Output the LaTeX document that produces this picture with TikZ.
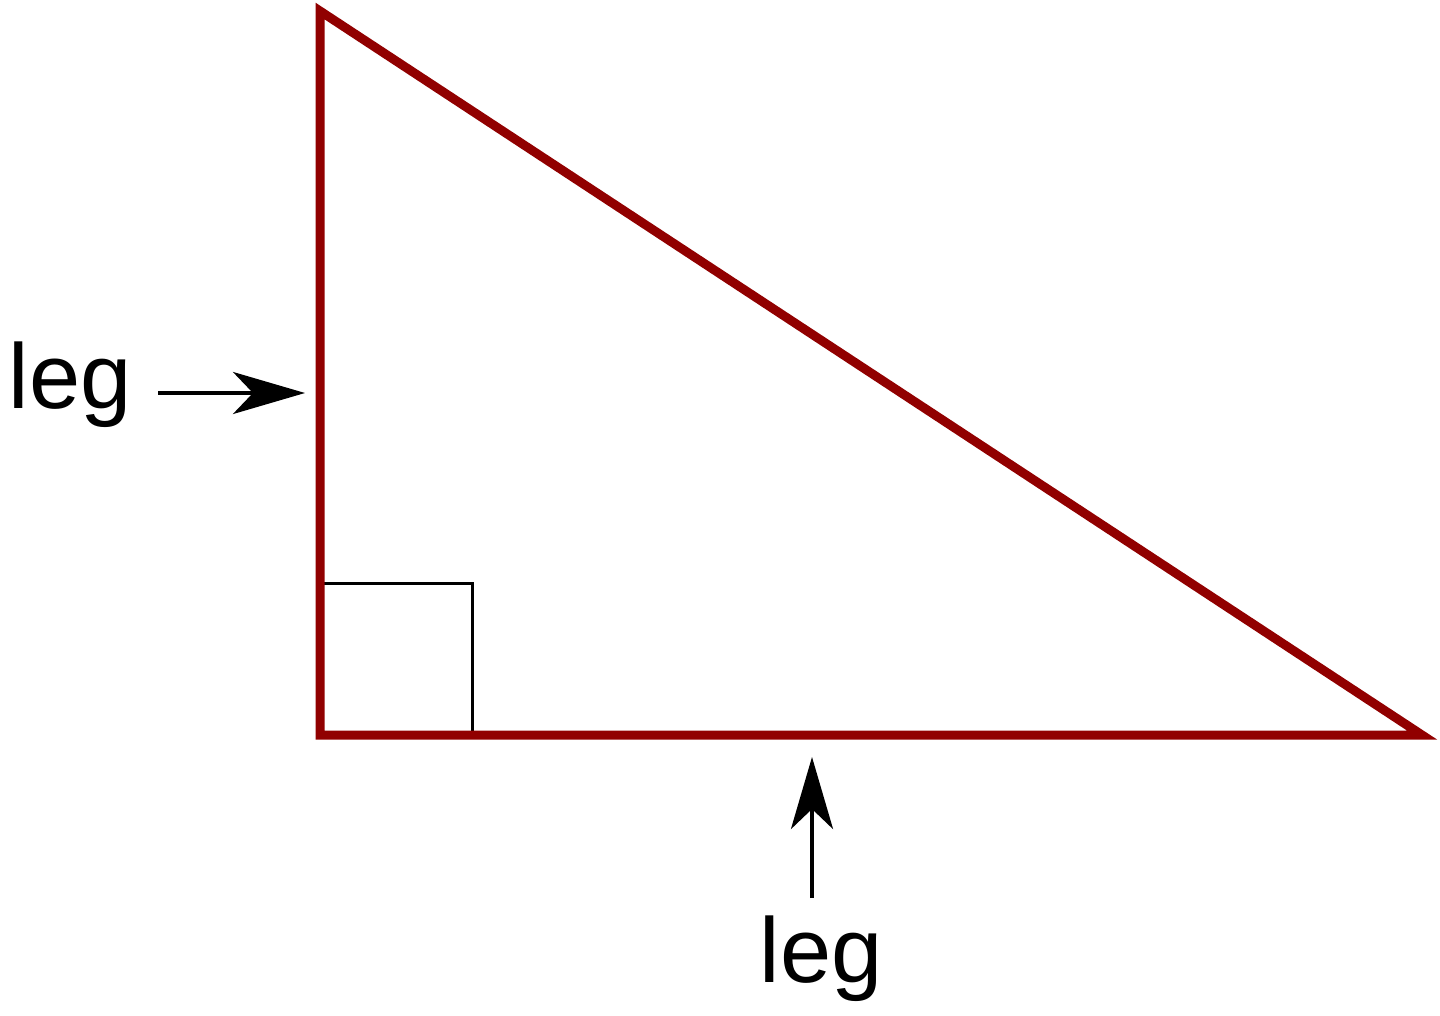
\documentclass[tikz,border=0pt]{standalone}
\usepackage{fontspec}
\setmainfont{Liberation Sans}
\usetikzlibrary{arrows.meta}
\definecolor{legred}{RGB}{145,0,0}
\begin{document}
\begin{tikzpicture}[x=0.5pt,y=-0.5pt,
  side/.style={draw=legred,line width=4.5pt,line join=miter},
  marker/.style={draw=black,line width=1.5pt},
  pointer/.style={draw=black,line width=2pt,-{Stealth[length=36pt,width=21pt,inset=10pt]}},
  lbl/.style={font=\fontsize{46}{50}\selectfont,inner sep=0pt,anchor=base}]
\useasboundingbox (0,0) rectangle (1440,1016);
\coordinate (A) at (320,11);
\coordinate (B) at (320,735);
\coordinate (C) at (1422,735);
\draw[marker] (320,583) -| (472,735);
\draw[side] (A) -- (B) -- (C) -- cycle;
\node[lbl] (leftleg) at (70,408) {leg};
\node[lbl] (bottomleg) at (821,982) {leg};
\coordinate (ls) at (158,393);
\coordinate (le) at (305,393);
\coordinate (bs) at (812,898);
\coordinate (be) at (812,757);
\draw[pointer] (ls) -- (le);
\draw[pointer] (bs) -- (be);
\end{tikzpicture}
\end{document}
